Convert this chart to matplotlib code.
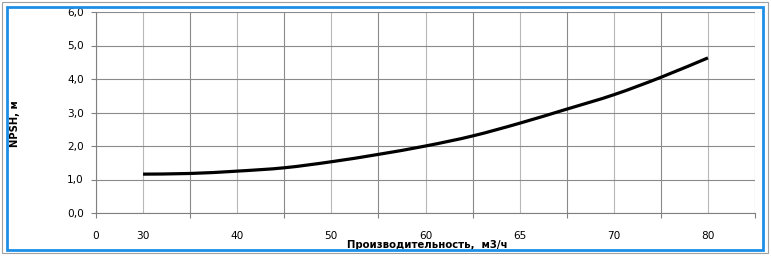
import matplotlib
matplotlib.use("Agg")
import matplotlib.pyplot as plt
from matplotlib.patches import Rectangle, PathPatch
from matplotlib.path import Path

# Category labels along the x axis (Excel-style category axis)
x_labels = ["0", "30", "40", "50", "60", "65", "70", "80"]
# NPSH values read at each half-category step from 30 to 80
npsh = [1.16, 1.18, 1.25, 1.35, 1.53, 1.75, 2.00, 2.30, 2.68, 3.10, 3.53, 4.05, 4.63]
y_ticks = [0, 1, 2, 3, 4, 5, 6]
y_tick_labels = ["0,0", "1,0", "2,0", "3,0", "4,0", "5,0", "6,0"]

plt.rcParams['font.family'] = ['DejaVu Sans']

W, H = 771, 256
fig = plt.figure(figsize=(W / 100, H / 100), dpi=100)
ax = fig.add_axes([96 / W, 1 - 213 / H, (755 - 96) / W, (213 - 12) / H])

n_steps = len(npsh) + 1
xs = list(range(1, len(npsh) + 1))

# smoothed line (Excel-style) via Catmull-Rom -> cubic Bezier through the data points
verts = [(xs[0], npsh[0])]
codes = [Path.MOVETO]
pts = list(zip(xs, npsh))
for i in range(len(pts) - 1):
    p0 = pts[i - 1] if i > 0 else pts[i]
    p1 = pts[i]
    p2 = pts[i + 1]
    p3 = pts[i + 2] if i + 2 < len(pts) else pts[i + 1]
    c1 = (p1[0] + (p2[0] - p0[0]) / 6, p1[1] + (p2[1] - p0[1]) / 6)
    c2 = (p2[0] - (p3[0] - p1[0]) / 6, p2[1] - (p3[1] - p1[1]) / 6)
    verts += [c1, c2, p2]
    codes += [Path.CURVE4] * 3
ax.add_patch(PathPatch(Path(verts, codes), fill=False, edgecolor='black', lw=2.3,
                       capstyle='butt', zorder=5))

ax.set_xlim(0, n_steps)
ax.set_ylim(0, 6)

# gridlines
for i in range(0, n_steps + 1):
    col = '#8a8a8a' if i % 2 == 0 else '#b8b8b8'
    ax.axvline(i, color=col, lw=0.8, zorder=1)
for v in y_ticks:
    ax.axhline(v, color='#8a8a8a', lw=0.8, zorder=1)

for s in ['top', 'right']:
    ax.spines[s].set_visible(False)
ax.spines['left'].set_color('#808080')
ax.spines['bottom'].set_color('#808080')
ax.spines['left'].set_linewidth(0.8)
ax.spines['bottom'].set_linewidth(0.8)

major_x = list(range(0, n_steps + 1, 2))
ax.set_xticks(major_x)
ax.set_xticklabels([x_labels[0]] + [""] * (len(major_x) - 1))
minor_x = list(range(1, n_steps, 2))
ax.set_xticks(minor_x, minor=True)
ax.set_xticklabels(x_labels[1:], minor=True)
ax.tick_params(axis='x', which='major', direction='out', length=3.6, width=0.8,
               color='#808080', pad=9.2, labelsize=7.6)
ax.tick_params(axis='x', which='minor', length=0, pad=12.8, labelsize=7.6)

ax.set_yticks(y_ticks)
ax.set_yticklabels(y_tick_labels)
ax.tick_params(axis='y', direction='out', length=3.6, width=0.8, color='#808080',
               pad=5.0, labelsize=7.6)

fig.text(15 / W, 1 - 124 / H, "NPSH, м", rotation=90, ha='center', va='center',
         fontsize=7.2, fontweight='bold')
fig.text(427 / W, 1 - 245 / H, "Производительность,  м3/ч", ha='center', va='center',
         fontsize=7.3, fontweight='bold')

# outer frames
fig.patches.append(Rectangle((2 / W, 1 - 253 / H), 766 / W, 251 / H, transform=fig.transFigure,
                             fill=False, edgecolor='#a0a0a0', lw=0.8))
fig.patches.append(Rectangle((7 / W, 1 - 250 / H), 756 / W, 243 / H, transform=fig.transFigure,
                             fill=False, edgecolor='#1e8fe6', lw=2.0, zorder=10))

fig.savefig("out.png", dpi=100)
